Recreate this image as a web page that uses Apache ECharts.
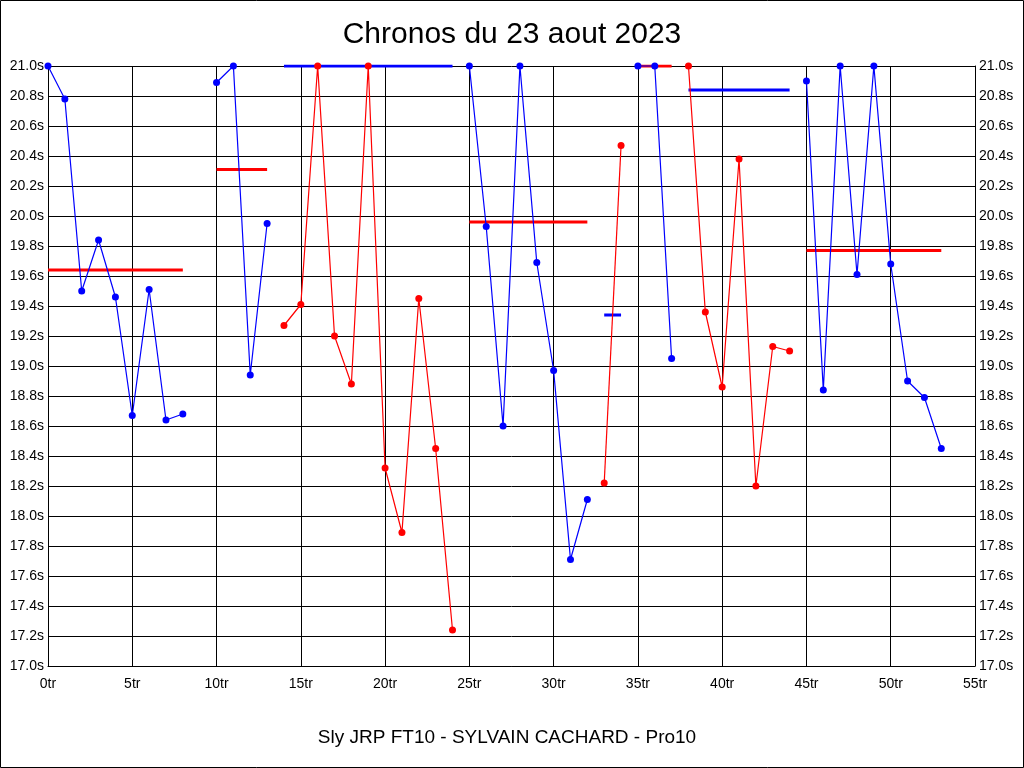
<!DOCTYPE html>
<html>
<head>
<meta charset="utf-8">
<script src="https://cdn.jsdelivr.net/npm/echarts@6/dist/echarts.min.js"></script>
<style>
html,body{margin:0;padding:0;background:#fff;}
#chart{width:1024px;height:768px;}
</style>
</head>
<body>
<div id="chart"></div>
<script>
// Lap times per session (seconds)
const session1 = [21.0, 20.78, 19.50, 19.84, 19.46, 18.67, 19.51, 18.64, 18.68];
const session2 = [20.89, 21.0, 18.94, 19.95];
const session3 = [19.27, 19.41, 21.0, 19.20, 18.88, 21.0, 18.32, 17.89, 19.45, 18.45, 17.24];
const session4 = [21.0, 19.93, 18.60, 21.0, 19.69, 18.97, 17.71, 18.11];
const session5 = [18.22, 20.47];
const session6 = [21.0, 21.0, 19.05];
const session7 = [21.0, 19.36, 18.86, 20.38, 18.20, 19.13, 19.10];
const session8 = [20.90, 18.84, 21.0, 19.61, 21.0, 19.68, 18.90, 18.79, 18.45];
const sessionStarts = [0, 10, 14, 25, 33, 35, 38, 45];
const sessionMeans = [19.64, 20.31, 21.0, 19.96, 19.34, 21.0, 20.84, 19.77];
const sessionColors = ['#0000ff', '#0000ff', '#ff0000', '#0000ff', '#ff0000', '#0000ff', '#ff0000', '#0000ff'];
const meanColors = ['#ff0000', '#ff0000', '#0000ff', '#ff0000', '#0000ff', '#ff0000', '#0000ff', '#ff0000'];
const titleText = 'Chronos du 23 aout 2023';
const subtitleText = 'Sly JRP FT10 - SYLVAIN CACHARD - Pro10';
const xMin = 0, xMax = 55, xStep = 5;
const yMin = 17.0, yMax = 21.0, yStep = 0.2;

const sessions = [session1, session2, session3, session4, session5, session6, session7, session8];
const FONT = '"Liberation Sans", Arial, sans-serif';

const series = [];
sessions.forEach((vals, i) => {
  const start = sessionStarts[i];
  const end = start + vals.length - 1;
  series.push({
    type: 'line',
    data: [[start, sessionMeans[i]], [end, sessionMeans[i]]],
    symbol: 'none',
    lineStyle: { color: meanColors[i], width: 3 },
    z: 2,
    silent: true
  });
});
sessions.forEach((vals, i) => {
  const start = sessionStarts[i];
  series.push({
    type: 'line',
    data: vals.map((v, k) => [start + k, v]),
    symbol: 'circle',
    symbolSize: 7,
    showSymbol: true,
    lineStyle: { color: sessionColors[i], width: 1.2 },
    itemStyle: { color: sessionColors[i] },
    z: 3,
    clip: false,
    silent: true
  });
});

const yLabel = {
  fontFamily: FONT, fontSize: 14, color: '#000', margin: 4,
  formatter: v => v.toFixed(1) + 's'
};

const chart = echarts.init(document.getElementById('chart'), null, { renderer: 'canvas' });
chart.setOption({
  animation: false,
  backgroundColor: '#fff',
  grid: { left: 48, right: 49, top: 66, bottom: 102, containLabel: false },
  xAxis: {
    type: 'value', min: xMin, max: xMax, interval: xStep,
    axisLine: { show: true, lineStyle: { color: '#000', width: 1 } },
    axisTick: { show: false },
    splitLine: { show: true, lineStyle: { color: '#000', width: 1 } },
    axisLabel: { fontFamily: FONT, fontSize: 14, color: '#000', margin: 11, formatter: '{value}tr' }
  },
  yAxis: [
    {
      type: 'value', position: 'left', min: yMin, max: yMax, interval: yStep,
      axisLine: { show: true, lineStyle: { color: '#000', width: 1 } },
      axisTick: { show: false },
      splitLine: { show: true, lineStyle: { color: '#000', width: 1 } },
      axisLabel: yLabel
    },
    {
      type: 'value', position: 'right', min: yMin, max: yMax, interval: yStep,
      axisLine: { show: true, lineStyle: { color: '#000', width: 1 } },
      axisTick: { show: false },
      splitLine: { show: false },
      axisLabel: yLabel
    }
  ],
  series: series,
  graphic: [
    { type: 'rect', shape: { x: 0.5, y: 0.5, width: 1023, height: 767 },
      style: { fill: 'none', stroke: '#000', lineWidth: 1 }, silent: true },
    { type: 'text', x: 512, y: 35,
      style: { text: titleText, font: '30px ' + FONT, fill: '#000', align: 'center', verticalAlign: 'middle' } },
    { type: 'text', x: 507, y: 738,
      style: { text: subtitleText, font: '19px ' + FONT, fill: '#000', align: 'center', verticalAlign: 'middle' } }
  ]
});
</script>
</body>
</html>
